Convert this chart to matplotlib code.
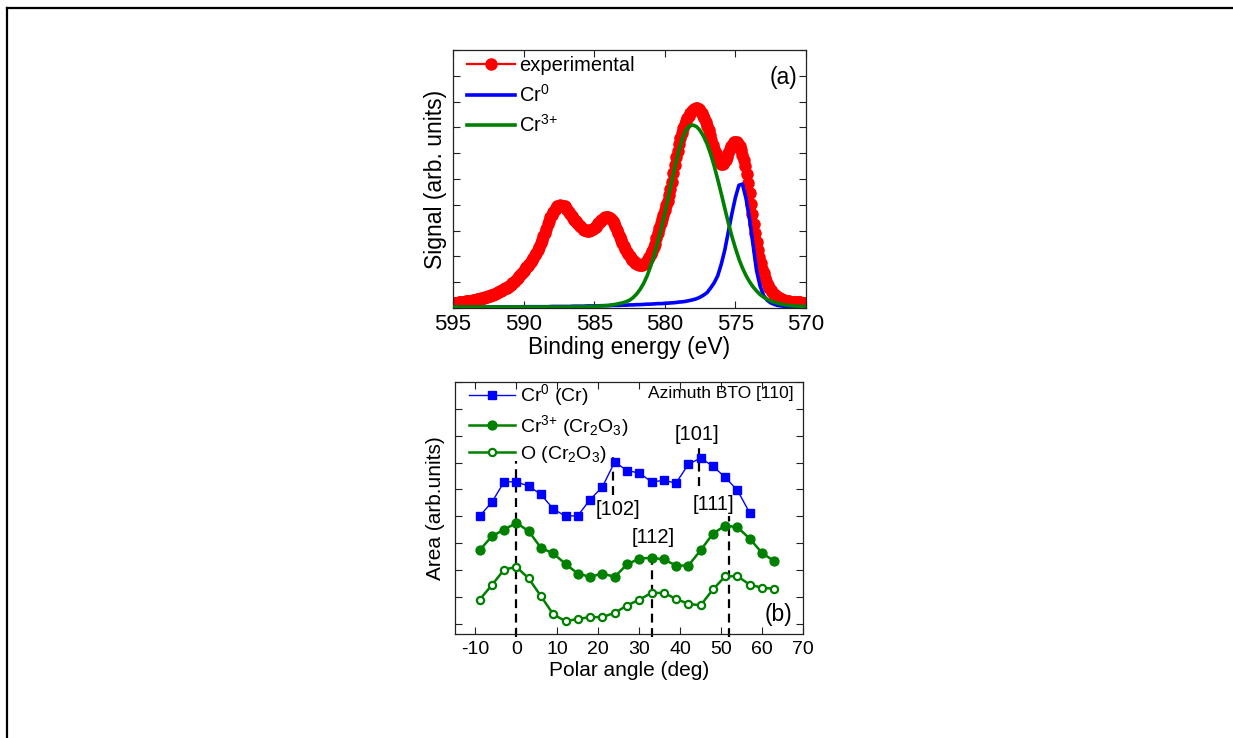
import numpy as np
import matplotlib
matplotlib.use("Agg")
import matplotlib.pyplot as plt
from matplotlib.lines import Line2D

plt.rcParams['font.family'] = ['Liberation Sans', 'DejaVu Sans']
plt.rcParams['mathtext.fontset'] = 'custom'
plt.rcParams['mathtext.rm'] = 'Liberation Sans'
plt.rcParams['mathtext.it'] = 'Liberation Sans:italic'
plt.rcParams['mathtext.bf'] = 'Liberation Sans:bold'
plt.rcParams['axes.unicode_minus'] = False

# ---------------- Panel (a) data ----------------
# experimental spectrum, 595 -> 570 eV in 0.1 eV steps
exp_signal = [
    0.20, 0.20, 0.21, 0.21, 0.22, 0.23, 0.23, 0.24, 0.25, 0.26,
    0.27, 0.28, 0.28, 0.29, 0.30, 0.31, 0.32, 0.33, 0.35, 0.36,
    0.37, 0.39, 0.40, 0.42, 0.44, 0.45, 0.47, 0.50, 0.52, 0.54,
    0.56, 0.58, 0.61, 0.64, 0.67, 0.69, 0.72, 0.76, 0.79, 0.83,
    0.86, 0.91, 0.96, 1.01, 1.06, 1.12, 1.18, 1.24, 1.30, 1.37,
    1.43, 1.50, 1.57, 1.64, 1.71, 1.78, 1.86, 1.95, 2.04, 2.14,
    2.25, 2.38, 2.51, 2.65, 2.79, 2.92, 3.08, 3.24, 3.39, 3.51,
    3.62, 3.72, 3.81, 3.88, 3.94, 3.97, 3.98, 3.97, 3.96, 3.94,
    3.86, 3.80, 3.72, 3.64, 3.57, 3.50, 3.43, 3.36, 3.29, 3.23,
    3.18, 3.13, 3.08, 3.04, 3.02, 3.00, 3.00, 3.01, 3.03, 3.06,
    3.10, 3.15, 3.21, 3.28, 3.34, 3.40, 3.45, 3.48, 3.51, 3.52,
    3.52, 3.50, 3.46, 3.38, 3.28, 3.18, 3.04, 2.90, 2.77, 2.64,
    2.52, 2.40, 2.28, 2.17, 2.08, 2.00, 1.93, 1.87, 1.81, 1.76,
    1.72, 1.69, 1.67, 1.66, 1.66, 1.70, 1.75, 1.80, 1.88, 1.96,
    2.10, 2.22, 2.35, 2.50, 2.70, 2.92, 3.10, 3.28, 3.45, 3.62,
    3.80, 3.98, 4.16, 4.37, 4.62, 4.90, 5.22, 5.56, 5.85, 6.10,
    6.35, 6.58, 6.80, 6.98, 7.12, 7.25, 7.36, 7.46, 7.55, 7.63,
    7.68, 7.72, 7.74, 7.74, 7.70, 7.62, 7.55, 7.46, 7.36, 7.20,
    7.05, 6.90, 6.72, 6.53, 6.33, 6.15, 6.00, 5.86, 5.74, 5.65,
    5.60, 5.60, 5.64, 5.72, 5.85, 6.02, 6.15, 6.27, 6.36, 6.42,
    6.44, 6.42, 6.36, 6.26, 6.12, 5.92, 5.72, 5.52, 5.20, 4.85,
    4.45, 4.05, 3.65, 3.25, 2.90, 2.55, 2.25, 1.98, 1.74, 1.53,
    1.35, 1.18, 1.03, 0.90, 0.79, 0.69, 0.61, 0.55, 0.49, 0.45,
    0.41, 0.38, 0.35, 0.33, 0.31, 0.29, 0.28, 0.27, 0.26, 0.25,
    0.24, 0.24, 0.23, 0.23, 0.22, 0.22, 0.22, 0.21, 0.21, 0.21,
    0.21,
]
exp_energy = np.linspace(595, 570, len(exp_signal))

# fitted components, 595 -> 570 eV in 0.25 eV steps
cr0_fit = [
    0.03, 0.03, 0.03, 0.03, 0.03, 0.03, 0.03, 0.03, 0.03, 0.03,
    0.04, 0.04, 0.04, 0.04, 0.04, 0.04, 0.04, 0.04, 0.04, 0.04, 0.05,
    0.05, 0.05, 0.05, 0.05, 0.05, 0.05, 0.05, 0.06, 0.06, 0.06,
    0.06, 0.06, 0.06, 0.07, 0.07, 0.07, 0.07, 0.08, 0.08, 0.08,
    0.08, 0.09, 0.09, 0.09, 0.10, 0.10, 0.10, 0.11, 0.11, 0.12,
    0.12, 0.13, 0.13, 0.14, 0.15, 0.15, 0.16, 0.17, 0.17, 0.18,
    0.19, 0.20, 0.21, 0.23, 0.24, 0.26, 0.29, 0.32, 0.36, 0.42,
    0.50, 0.60, 0.78, 0.98, 1.25, 1.70, 2.25, 2.95, 3.65, 4.28,
    4.76, 4.80, 4.25, 3.45, 2.45, 1.45, 0.85, 0.48, 0.30, 0.20,
    0.14, 0.10, 0.08, 0.06, 0.05, 0.05, 0.04, 0.04, 0.04, 0.04,
]
cr3_fit = [
    0.04, 0.04, 0.04, 0.04, 0.04, 0.04, 0.04, 0.04, 0.04, 0.04,
    0.04, 0.04, 0.04, 0.04, 0.04, 0.04, 0.04, 0.04, 0.04, 0.04,
    0.04, 0.04, 0.04, 0.04, 0.04, 0.04, 0.04, 0.04, 0.04, 0.04,
    0.04, 0.04, 0.04, 0.04, 0.05, 0.05, 0.05,
    0.05, 0.05, 0.06, 0.06, 0.07, 0.08, 0.09, 0.10, 0.12, 0.14,
    0.17, 0.20, 0.24, 0.30, 0.40, 0.54, 0.72, 0.95, 1.25, 1.62,
    2.07, 2.55, 3.08, 3.66, 4.28, 4.92, 5.55, 6.12, 6.58, 6.90,
    7.06, 7.09, 7.03, 6.88, 6.65, 6.35, 5.96, 5.50, 4.98, 4.43,
    3.86, 3.30, 2.78, 2.32, 1.90, 1.55, 1.26, 1.02, 0.82, 0.66,
    0.52, 0.42, 0.34, 0.27, 0.22, 0.18, 0.15, 0.12, 0.10, 0.09,
    0.08, 0.07, 0.06, 0.06,
]
fit_energy = np.linspace(595, 570, len(cr0_fit))
fit_energy3 = np.linspace(595, 570, len(cr3_fit))

# ---------------- Panel (b) data ----------------
angle_cr0 = [-9, -6, -3, 0, 3, 6, 9, 12, 15, 18, 21, 24, 27, 30, 33, 36, 39,
             42, 45, 48, 51, 54, 57]
area_cr0 = [4.00, 4.52, 5.28, 5.28, 5.12, 4.81, 4.27, 4.00, 4.02, 4.62, 5.09,
            6.02, 5.70, 5.61, 5.28, 5.33, 5.24, 5.93, 6.17, 5.86, 5.45, 4.96,
            4.12]
angle_cr3 = [-9, -6, -3, 0, 3, 6, 9, 12, 15, 18, 21, 24, 27, 30, 33, 36, 39,
             42, 45, 48, 51, 54, 57, 60, 63]
area_cr3 = [2.73, 3.25, 3.50, 3.75, 3.44, 2.82, 2.61, 2.22, 1.86, 1.74, 1.86,
            1.74, 2.20, 2.42, 2.45, 2.39, 2.16, 2.16, 2.73, 3.35, 3.65, 3.59,
            3.16, 2.63, 2.32]
area_o = [0.89, 1.43, 2.01, 2.11, 1.68, 1.02, 0.34, 0.09, 0.17, 0.24, 0.24,
          0.40, 0.67, 0.89, 1.14, 1.14, 0.92, 0.73, 0.68, 1.27, 1.76, 1.76,
          1.45, 1.33, 1.30]

directions = ['[102]', '[101]', '[112]', '[111]']

RED = '#ff0000'
BLUE = '#0000ff'
GREEN = '#008000'

fig = plt.figure(figsize=(12.33, 7.38), dpi=100)

# outer frame (top and left edges)
fig.add_artist(Line2D([7 / 1233, 1], [1 - 8 / 738, 1 - 8 / 738],
                      transform=fig.transFigure, color='black', lw=1.6))
fig.add_artist(Line2D([7 / 1233, 7 / 1233], [0, 1 - 8 / 738],
                      transform=fig.transFigure, color='black', lw=1.6))

# ---------------- Panel (a) ----------------
axa = fig.add_axes([453 / 1233, 1 - 308 / 738, 353 / 1233, 258 / 738])
axa.plot(exp_energy, exp_signal, '-', color=RED, lw=1.6, marker='o',
         ms=8.0, mec=RED, mfc=RED, label='experimental', zorder=2)
axa.plot(fit_energy, cr0_fit, '-', color=BLUE, lw=2.6, label='Cr$^{0}$',
         zorder=3)
axa.plot(fit_energy3, cr3_fit, '-', color=GREEN, lw=2.6, label='Cr$^{3{+}}$',
         zorder=4)
axa.set_xlim(595, 570)
axa.set_ylim(0, 10)
axa.set_xticks([595, 590, 585, 580, 575, 570])
axa.set_yticks(range(0, 11))
axa.set_yticklabels([])
axa.tick_params(direction='in', top=True, right=True, length=5, width=0.8,
                labelsize=16, pad=4, colors='#222222', labelcolor='black')
axa.set_xlabel('Binding energy (eV)', fontsize=16.5, labelpad=1)
axa.set_ylabel('Signal (arb. units)', fontsize=16.5, labelpad=0)
axa.text(0.935, 0.895, '(a)', transform=axa.transAxes, fontsize=16.5,
         ha='center', va='center')
axa.legend(loc='upper left', bbox_to_anchor=(0.0, 1.03), frameon=False,
           fontsize=14.5, handlelength=2.4, handletextpad=0.2,
           labelspacing=0.42, borderaxespad=0.3, numpoints=1)
for s in axa.spines.values():
    s.set_linewidth(0.9)
    s.set_color('#222222')

# ---------------- Panel (b) ----------------
axb = fig.add_axes([455 / 1233, 1 - 634 / 738, 348 / 1233, 252 / 738])
axb.plot(angle_cr0, area_cr0, '-', color=BLUE, lw=1.0, marker='s', ms=5.6,
         mfc=BLUE, mec=BLUE, label='Cr$^{0}$ (Cr)', zorder=3)
axb.plot(angle_cr3, area_cr3, '-', color=GREEN, lw=1.8, marker='o', ms=6.4,
         mfc=GREEN, mec=GREEN, label='Cr$^{3{+}}$ (Cr$_2$O$_3$)', zorder=3)
axb.plot(angle_cr3, area_o, '-', color=GREEN, lw=1.8, marker='o', ms=5.2,
         mfc='white', mec=GREEN, mew=1.6, label='O (Cr$_2$O$_3$)', zorder=3)

# dashed direction markers
dash_segments = [(23.5, 4.80, 6.33), (44.5, 5.12, 6.62), (0.0, -0.5, 6.05),
                 (33.0, -0.5, 2.66), (52.0, -0.5, 4.00)]
for xv, y0, y1 in dash_segments:
    axb.plot([xv, xv], [y0, y1], color='black', lw=1.6, ls=(0, (4, 2.5)),
             clip_on=False, zorder=2)

label_pos = [(24.8, 4.25), (44.0, 7.05), (33.5, 3.19), (48.1, 4.43)]
for txt, (xv, yv) in zip(directions, label_pos):
    axb.text(xv, yv, txt, fontsize=14.5, ha='center', va='center')

axb.text(67.7, 8.58, 'Azimuth BTO [110]', fontsize=12.5, ha='right',
         va='center')
axb.text(64.0, 0.34, '(b)', fontsize=16.5, ha='center', va='center')

axb.set_xlim(-15, 70)
axb.set_ylim(-0.39, 9.0)
axb.set_xticks(range(-10, 71, 10))
axb.set_yticks(range(0, 10))
axb.set_yticklabels([])
axb.tick_params(direction='in', top=True, right=True, length=5, width=0.8,
                labelsize=14, pad=5, colors='#222222', labelcolor='black')
axb.set_xlabel('Polar angle (deg)', fontsize=15, labelpad=2)
axb.set_ylabel('Area (arb.units)', fontsize=15, labelpad=2)
axb.legend(loc='upper left', bbox_to_anchor=(0.0, 1.052), frameon=False,
           fontsize=14, handlelength=2.4, handletextpad=0.25,
           labelspacing=0.25, borderaxespad=0.3, numpoints=1)
for s in axb.spines.values():
    s.set_linewidth(0.9)
    s.set_color('#222222')

fig.savefig('out.png', dpi=100)
